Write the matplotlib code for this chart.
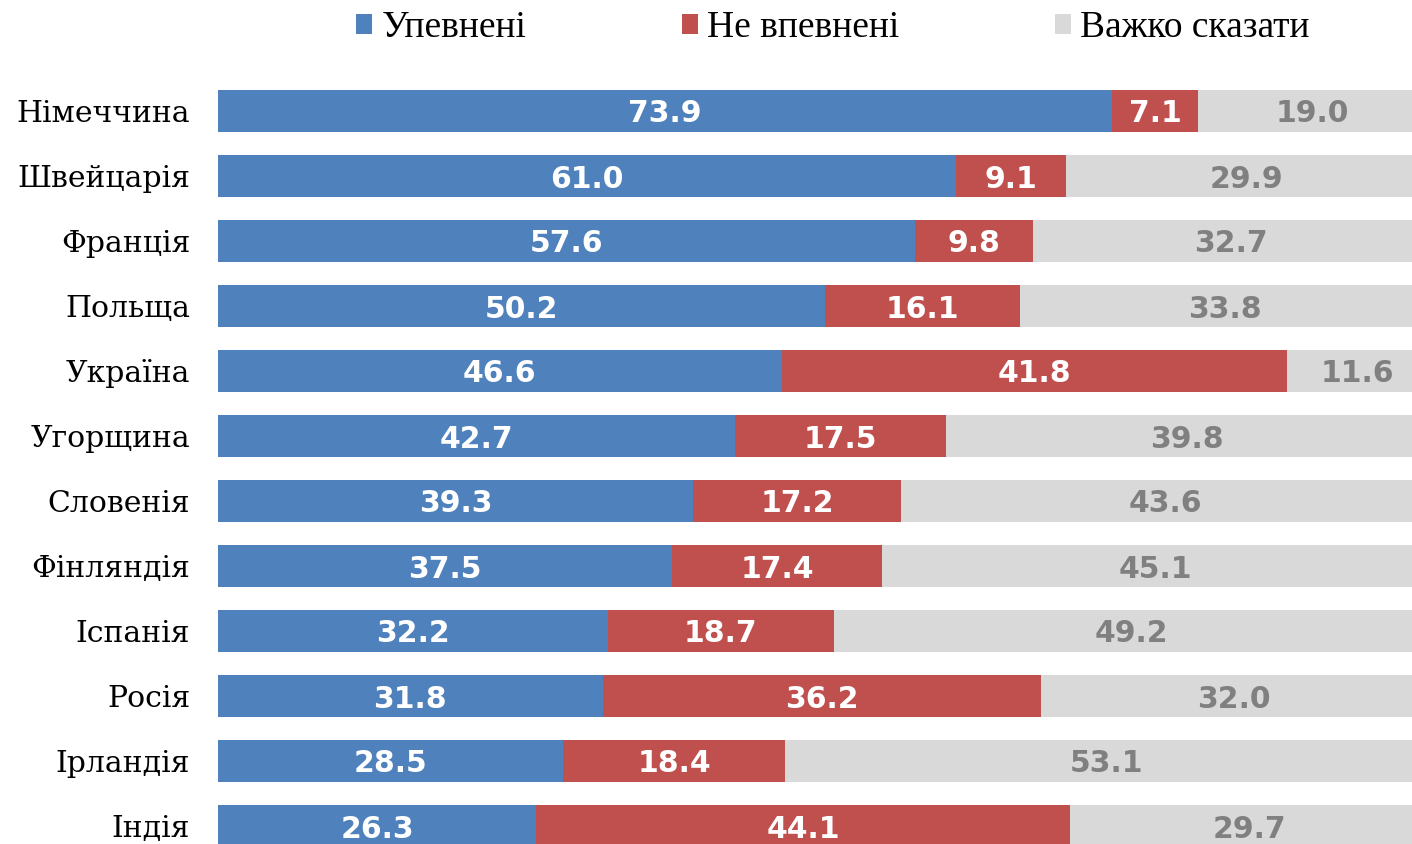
import matplotlib.pyplot as plt
import numpy as np

countries = ['Німеччина', 'Швейцарія', 'Франція', 'Польща', 'Україна', 'Угорщина',
             'Словенія', 'Фінляндія', 'Іспанія', 'Росія', 'Ірландія', 'Індія']
sure = [73.9, 61.0, 57.6, 50.2, 46.6, 42.7, 39.3, 37.5, 32.2, 31.8, 28.5, 26.3]
not_sure = [7.1, 9.1, 9.8, 16.1, 41.8, 17.5, 17.2, 17.4, 18.7, 36.2, 18.4, 44.1]
hard_to_say = [19.0, 29.9, 32.7, 33.8, 11.6, 39.8, 43.6, 45.1, 49.2, 32.0, 53.1, 29.7]
series_names = ['Упевнені', 'Не впевнені', 'Важко сказати']

colors = ['#4F81BD', '#C0504D', '#D9D9D9']
text_colors = ['white', 'white', '#808080']

W, H = 1412, 844
fig = plt.figure(figsize=(W / 100, H / 100), dpi=100)
ax = fig.add_axes([218 / W, 0, 1 - 218 / W, 1 - 60 / H])

y = np.arange(len(countries))
left = np.zeros(len(countries))
for vals, name, c, tc in zip([sure, not_sure, hard_to_say], series_names, colors, text_colors):
    vals = np.array(vals)
    ax.barh(y, vals, left=left, height=0.66, color=c, label=name)
    # подписи значений по центру сегмента
    for yi, l, v in zip(y, left, vals):
        ax.text(l + v / 2, yi, f'{v:.1f}', ha='center', va='center_baseline', color=tc,
                fontsize=21.5, fontweight='bold', family='DejaVu Sans')
    left += vals

ax.set_xlim(0, 98.7)
ax.set_ylim(11 + 18 / 65, -51 / 65)
ax.set_yticks(y, countries, fontsize=21.5, family='DejaVu Serif')
ax.tick_params(axis='y', length=0, pad=20)
ax.set_xticks([])
for s in ax.spines.values():
    s.set_visible(False)

fig.legend(loc='center', bbox_to_anchor=(833 / W, 1 - 28 / H), ncol=3, frameon=False,
           prop={'family': 'Liberation Serif', 'size': 27},
           handlelength=0.42, handleheight=0.42, handletextpad=0.25, columnspacing=4.15)

fig.savefig('out.png', dpi=100)
